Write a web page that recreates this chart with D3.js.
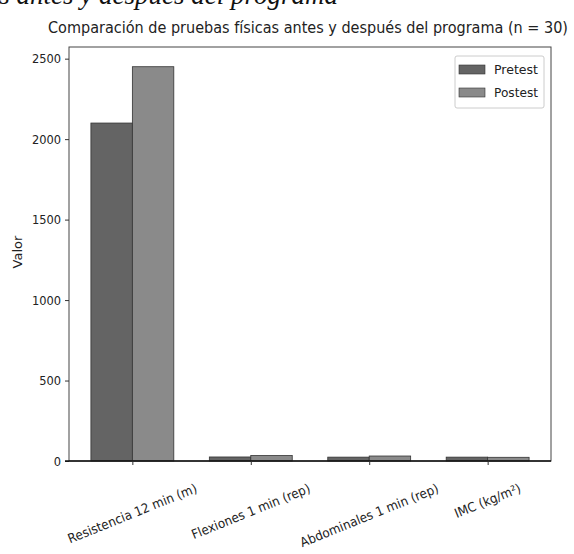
<!DOCTYPE html>
<html>
<head>
<meta charset="utf-8">
<script src="https://cdn.jsdelivr.net/npm/d3@7"></script>
<style>
  html, body { margin: 0; padding: 0; background: #fff; }
  svg { display: block; }
  text { font-family: "DejaVu Sans", sans-serif; fill: #222; }
</style>
</head>
<body>
<svg id="chart" width="574" height="554"></svg>
<script>
// Physical test results, before and after the program
const categories = ["Resistencia 12 min (m)", "Flexiones 1 min (rep)", "Abdominales 1 min (rep)", "IMC (kg/m²)"];
const seriesNames = ["Pretest", "Postest"];
const pretest = [2100, 25, 24, 24];
const postest = [2450, 34, 31, 23];
const yTicks = [0, 500, 1000, 1500, 2000, 2500];
const colors = ["#646464", "#8a8a8a"];

const svg = d3.select("#chart");
const plot = { left: 69, right: 551, top: 47, bottom: 461 };

// Caption line from the surrounding document, partly cut off at the top
svg.append("text")
  .attr("x", 338).attr("y", 4)
  .attr("text-anchor", "end")
  .style("font-family", "'Liberation Serif', serif")
  .style("font-style", "italic")
  .style("font-size", "27px")
  .style("fill", "#111")
  .text("Figura 1. Comparación de pruebas físicas antes y después del programa");

// Numeric x positions: bar width 0.35, group centred on each category index
const barW = 0.35;
const x = d3.scaleLinear().domain([-0.535, 3.535]).range([plot.left, plot.right]);
const y = d3.scaleLinear().domain([0, 2450 * 1.05]).range([plot.bottom, plot.top]);

const series = [pretest, postest];
series.forEach((vals, s) => {
  svg.append("g").selectAll("rect")
    .data(vals)
    .join("rect")
    .attr("x", (d, i) => x(i + (s - 1) * barW))
    .attr("width", x(barW) - x(0))
    .attr("y", d => y(d))
    .attr("height", d => y(0) - y(d))
    .attr("fill", colors[s])
    .attr("stroke", "#333")
    .attr("stroke-width", 0.8);
});

// Frame
svg.append("rect")
  .attr("x", plot.left).attr("y", plot.top)
  .attr("width", plot.right - plot.left).attr("height", plot.bottom - plot.top)
  .attr("fill", "none").attr("stroke", "#444").attr("stroke-width", 1);

// Y axis
const yAxis = svg.append("g")
  .attr("transform", `translate(${plot.left},0)`)
  .call(d3.axisLeft(y).tickValues(yTicks).tickSize(4).tickPadding(4).tickFormat(d3.format("d")));
yAxis.select(".domain").remove();
yAxis.selectAll("line").attr("stroke", "#333");
yAxis.selectAll("text")
  .style("font-size", "13px")
  .style("font-family", "'DejaVu Sans', sans-serif")
  .attr("fill", "#222")
  .each(function () {
    const t = d3.select(this);
    t.attr("textLength", this.getComputedTextLength() * 0.88).attr("lengthAdjust", "spacingAndGlyphs");
  });

// X axis baseline and ticks
svg.append("line")
  .attr("x1", plot.left - 4).attr("x2", plot.right)
  .attr("y1", plot.bottom).attr("y2", plot.bottom)
  .attr("stroke", "#111").attr("stroke-width", 1.6);
const xAxis = svg.append("g")
  .attr("transform", `translate(0,${plot.bottom})`)
  .call(d3.axisBottom(x).tickValues(d3.range(categories.length)).tickSize(4).tickFormat(""));
xAxis.select(".domain").remove();
xAxis.selectAll("line").attr("stroke", "#333");

// Rotated category labels, centred under each tick
const angle = 22, rad = angle * Math.PI / 180, fs = 13;
categories.forEach((c, i) => {
  const t = svg.append("text")
    .attr("text-anchor", "middle")
    .attr("dominant-baseline", "central")
    .style("font-size", fs + "px")
    .text(c);
  const L = t.node().getComputedTextLength() * 0.92;
  t.attr("textLength", L).attr("lengthAdjust", "spacingAndGlyphs");
  const h = fs * 1.1;
  const cy = plot.bottom + 20 + (L * Math.sin(rad) + h * Math.cos(rad)) / 2;
  t.attr("transform", `translate(${x(i)},${cy}) rotate(${-angle})`);
});

// Y axis label
svg.append("text")
  .attr("transform", `translate(17,252) rotate(-90)`)
  .attr("text-anchor", "middle")
  .attr("dominant-baseline", "central")
  .style("font-size", "13px")
  .text("Valor");

// Title
svg.append("text")
  .attr("x", 308).attr("y", 33)
  .attr("text-anchor", "middle")
  .attr("textLength", 520)
  .attr("lengthAdjust", "spacingAndGlyphs")
  .style("font-size", "16px")
  .text("Comparación de pruebas físicas antes y después del programa (n = 30)");

// Legend
const lg = svg.append("g").attr("transform", "translate(455,56)");
lg.append("rect").attr("width", 89).attr("height", 52)
  .attr("fill", "#fff").attr("stroke", "#ccc").attr("rx", 2);
seriesNames.forEach((n, i) => {
  const row = lg.append("g").attr("transform", `translate(0,${13 + i * 23})`);
  row.append("rect").attr("x", 4).attr("y", -4).attr("width", 26).attr("height", 9)
    .attr("fill", colors[i]).attr("stroke", "#333").attr("stroke-width", 0.6);
  row.append("text").attr("x", 39).attr("y", 0)
    .attr("dominant-baseline", "central")
    .attr("textLength", 44).attr("lengthAdjust", "spacingAndGlyphs")
    .style("font-size", "13px")
    .text(n);
});
</script>
</body>
</html>
